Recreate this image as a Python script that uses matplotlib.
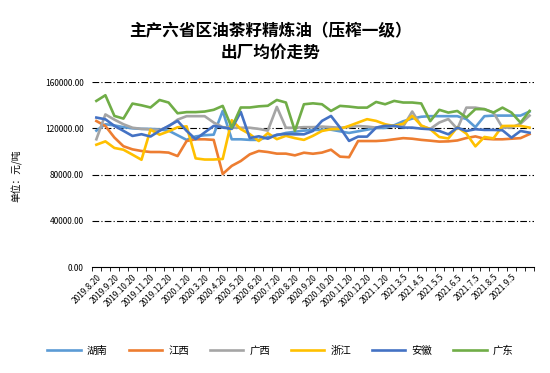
import matplotlib
matplotlib.use("Agg")
import matplotlib.pyplot as plt
from matplotlib.ticker import FixedLocator, FuncFormatter

plt.rcParams['font.family'] = ['Noto Sans CJK SC', 'DejaVu Sans']

dates = ["2019.8.20", "2019.9.5", "2019.9.20", "2019.10.5", "2019.10.20", "2019.11.5",
         "2019.11.20", "2019.12.5", "2019.12.20", "2020.1.5", "2020.1.20", "2020.3.5",
         "2020.3.20", "2020.4.5", "2020.4.20", "2020.5.5", "2020.5.20", "2020.6.5",
         "2020.6.20", "2020.7.5", "2020.7.20", "2020.8.5", "2020.8.20", "2020.9.5",
         "2020.9.20", "2020.10.5", "2020.10.20", "2020.11.5", "2020.11.20", "2020.12.5",
         "2020.12.20", "2021.1.5", "2021.1.20", "2021.2.20", "2021.3.5", "2021.3.20",
         "2021.4.5", "2021.4.20", "2021.5.5", "2021.5.20", "2021.6.5", "2021.6.20",
         "2021.7.5", "2021.7.20", "2021.8.5", "2021.8.20", "2021.9.5", "2021.9.20",
         "2021.10.5"]

hunan = [118000, 123500, 122500, 121000, 120000, 119500, 119500, 119000, 118000, 114000,
         110000, 113000, 114000, 114500, 135000, 110500, 110500, 110000, 110000, 112500,
         114000, 116000, 117000, 118000, 118500, 118800, 118800, 117400, 116000, 117400,
         118800, 120300, 120300, 122600, 126100, 128400, 130000, 130500, 130500, 130500,
         130500, 128000, 121000, 130500, 131000, 131000, 131000, 131000, 134500]

jiangxi = [126300, 122000, 112000, 104500, 101800, 100400, 99500, 99500, 99000, 96000,
           109000, 110500, 110500, 110000, 80500, 87500, 91700, 97500, 100400, 99500,
           98100, 98100, 96600, 98900, 98000, 99000, 101500, 95500, 95000, 109000,
           109000, 109000, 109500, 110500, 111500, 111000, 110000, 109300, 108500, 108700,
           109500, 111600, 113000, 111000, 110500, 110500, 111000, 111500, 115000]

guangxi = [110500, 132000, 127500, 123500, 120500, 119500, 119000, 118500, 121500, 127500,
           130500, 130500, 130500, 125000, 121000, 120500, 120500, 120500, 119500, 118000,
           138500, 120500, 120500, 121000, 121000, 121500, 121000, 120500, 121000, 122000,
           121500, 120600, 122000, 122000, 121500, 134500, 122000, 119500, 125000, 128000,
           119500, 137900, 137900, 136500, 133600, 120600, 120600, 124000, 131000]

zhejiang = [105800, 108700, 103000, 101500, 97200, 92800, 118800, 114500, 117400, 120900,
            121700, 94000, 93000, 93000, 93500, 127000, 119300, 115000, 109000, 115800,
            110600, 113500, 111500, 110000, 113500, 117700, 119200, 119500, 122100, 125000,
            127900, 126400, 123500, 122000, 124000, 130800, 122500, 119200, 112500, 111200,
            121000, 115400, 104400, 112500, 111300, 122000, 122100, 122100, 120600]

anhui = [129300, 127800, 122100, 117800, 113400, 114900, 112900, 117800, 122100, 126400,
         117800, 110600, 116400, 122100, 120700, 119500, 134200, 111600, 113100, 111000,
         114500, 115100, 114800, 114800, 117700, 126400, 130700, 120600, 109100, 112800,
         112800, 120600, 122100, 122100, 120600, 120600, 119700, 119200, 117700, 114800,
         120600, 117700, 119200, 118600, 118600, 118300, 111900, 117700, 116200]

guangdong = [143700, 148600, 130700, 128400, 141400, 139900, 138000, 144500, 142300, 133000,
             134000, 134000, 134500, 136000, 139400, 120600, 138000, 138000, 139000, 139500,
             144500, 142300, 117800, 140800, 141600, 140800, 135000, 139400, 138800, 137900,
             137900, 142800, 140800, 143700, 142300, 142300, 141500, 126200, 136000, 133600,
             135000, 129300, 136600, 136600, 133600, 137900, 133600, 124900, 135000]

series_names = ["湖南", "江西", "广西", "浙江", "安徽", "广东"]
series_values = [hunan, jiangxi, guangxi, zhejiang, anhui, guangdong]
colors = ["#5B9BD5", "#ED7D31", "#A5A5A5", "#FFC000", "#4472C4", "#70AD47"]

y_ticks = [0, 40000, 80000, 120000, 160000]

fig = plt.figure(figsize=(5.5, 3.73), dpi=100)
ax = fig.add_axes([0.167, 0.284, 0.804, 0.496])

x = list(range(len(dates)))
for name, vals, c in zip(series_names, series_values, colors):
    ax.plot(x, vals, color=c, lw=1.9, label=name, solid_joinstyle='round')

ax.set_xlim(-0.5, len(dates) - 0.5)
ax.set_ylim(0, 160000)
ax.set_yticks(y_ticks)
ax.yaxis.set_major_formatter(FuncFormatter(lambda v, p: f"{v:.2f}"))
ax.tick_params(axis='y', length=0, labelsize=6, pad=6)
for yt in y_ticks[1:]:
    ax.axhline(yt, color='black', lw=0.8, ls=(0, (6, 2, 1, 2)), zorder=0)

shown = list(range(0, 47, 2))
ax.set_xticks(shown)
ax.set_xticklabels([dates[i] for i in shown], rotation=45, ha='right',
                   rotation_mode='anchor', fontsize=6)
ax.xaxis.set_minor_locator(FixedLocator([i - 0.5 for i in range(len(dates) + 1)]))
ax.tick_params(axis='x', which='major', length=0, pad=4)
ax.tick_params(axis='x', which='minor', length=3, width=0.6, direction='out')

for s in ['top', 'right', 'left']:
    ax.spines[s].set_visible(False)
ax.spines['bottom'].set_linewidth(0.8)

fig.text(0.03, 0.53, "单位：元/吨", rotation=90, ha='center', va='center', fontsize=7)
fig.text(0.492, 0.915, "主产六省区油茶籽精炼油（压榨一级）", ha='center', va='center',
         fontsize=12, fontweight='bold')
fig.text(0.492, 0.858, "出厂均价走势", ha='center', va='center',
         fontsize=12, fontweight='bold')

fig.legend(loc='center', bbox_to_anchor=(0.51, 0.06), ncol=6, frameon=False,
           fontsize=7.5, handlelength=3.2, columnspacing=2.0, handletextpad=0.6)

fig.savefig("out.png", dpi=100)
